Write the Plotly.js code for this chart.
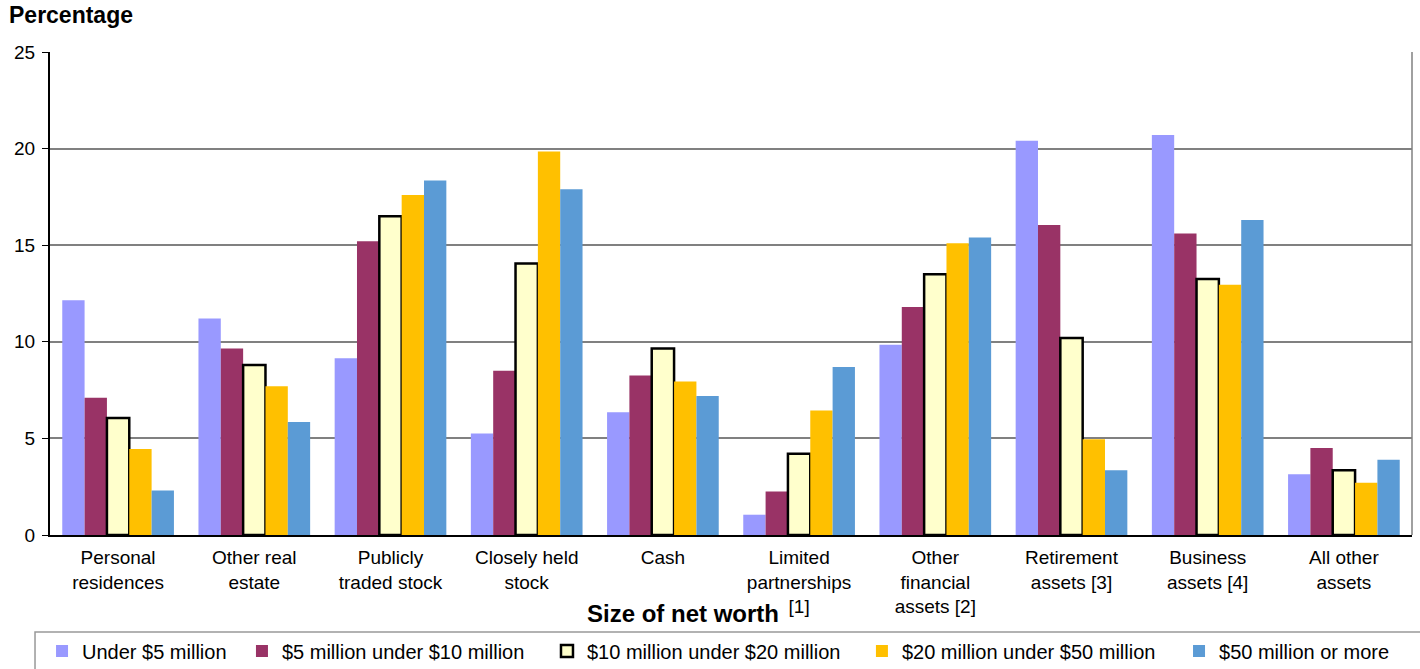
<!DOCTYPE html>
<html>
<head>
<meta charset="utf-8">
<script src="https://cdn.plot.ly/plotly-3.0.1.min.js"></script>
<style>html,body{margin:0;padding:0;background:#fff;}#chart{width:1420px;height:669px;}</style>
</head>
<body>
<div id="chart"></div>
<script>
const categories = [
  "Personal<br>residences",
  "Other real<br>estate",
  "Publicly<br>traded stock",
  "Closely held<br>stock",
  "Cash",
  "Limited<br>partnerships<br>[1]",
  "Other<br>financial<br>assets [2]",
  "Retirement<br>assets [3]",
  "Business<br>assets [4]",
  "All other<br>assets"
];
const seriesNames = [
  "Under $5 million",
  "$5 million under $10 million",
  "$10 million under $20 million",
  "$20 million under $50 million",
  "$50 million or more"
];
const under5   = [12.15, 11.2, 9.15, 5.25, 6.35, 1.05, 9.85, 20.4, 20.7, 3.15];
const m5to10   = [7.1, 9.65, 15.2, 8.5, 8.25, 2.25, 11.8, 16.05, 15.6, 4.5];
const m10to20  = [6.05, 8.8, 16.5, 14.05, 9.65, 4.2, 13.5, 10.2, 13.25, 3.35];
const m20to50  = [4.45, 7.7, 17.6, 19.85, 7.95, 6.45, 15.1, 4.95, 12.95, 2.7];
const m50plus  = [2.3, 5.85, 18.35, 17.9, 7.2, 8.7, 15.4, 3.35, 16.3, 3.9];

const colors = ["#9999FF", "#993366", "#FFFFCC", "#FFC000", "#5B9BD5"];
const values = [under5, m5to10, m10to20, m20to50, m50plus];
const legendIds = ["legend", "legend2", "legend3", "legend4", "legend5"];
const legendX = [0.0296, 0.1704, 0.3852, 0.6070, 0.8303];

const traces = values.map((v, i) => ({
  type: "bar",
  name: seriesNames[i],
  x: categories,
  y: v,
  legend: legendIds[i],
  marker: {
    color: colors[i],
    line: i === 2 ? {color: "#000000", width: 2.5} : {width: 0}
  },
  hoverinfo: "x+y+name"
}));

const font = "Liberation Sans, Arial, sans-serif";
const legendBase = (x) => ({
  orientation: "h",
  xref: "container", yref: "container",
  x: x, xanchor: "left",
  y: 0.027, yanchor: "middle",
  font: {family: font, size: 20, color: "#000"},
  bgcolor: "rgba(0,0,0,0)",
  borderwidth: 0,
  itemwidth: 30
});

const layout = {
  width: 1420,
  height: 669,
  margin: {l: 50, r: 8, t: 52, b: 134},
  paper_bgcolor: "#ffffff",
  plot_bgcolor: "#ffffff",
  font: {family: font, size: 19, color: "#000"},
  barmode: "group",
  bargap: 0.18,
  bargroupgap: 0,
  showlegend: true,
  legend: legendBase(legendX[0]),
  legend2: legendBase(legendX[1]),
  legend3: legendBase(legendX[2]),
  legend4: legendBase(legendX[3]),
  legend5: legendBase(legendX[4]),
  xaxis: {
    type: "category",
    showline: true,
    linecolor: "#000",
    linewidth: 2,
    ticks: "",
    ticklabelstandoff: 4,
    tickfont: {family: font, size: 19, color: "#000"},
    automargin: false,
    mirror: false
  },
  yaxis: {
    range: [0, 25],
    dtick: 5,
    tick0: 0,
    showline: true,
    linecolor: "#000",
    linewidth: 2,
    ticks: "outside",
    ticklen: 6,
    tickcolor: "#000",
    ticklabelstandoff: 3,
    showgrid: true,
    gridcolor: "#808080",
    gridwidth: 1.5,
    zeroline: false,
    tickfont: {family: font, size: 19, color: "#000"},
    automargin: false
  },
  shapes: [
    {type: "line", xref: "paper", yref: "paper", x0: 1, x1: 1, y0: 0, y1: 1,
     line: {color: "#808080", width: 1.5}},
    {type: "rect", xref: "paper", yref: "paper",
     x0: -0.011, x1: 1.02, y0: -0.2008, y1: -0.29,
     line: {color: "#999999", width: 1.5}, fillcolor: "rgba(0,0,0,0)"}
  ],
  annotations: [
    {text: "<b>Percentage</b>", xref: "paper", yref: "paper",
     x: -0.0315, y: 1.0766, xanchor: "left", yanchor: "middle", showarrow: false,
     font: {family: font, size: 23, color: "#000"}},
    {text: "<b>Size of net worth</b>", xref: "paper", yref: "paper",
     x: 0.4645, y: -0.163, xanchor: "center", yanchor: "middle", showarrow: false,
     font: {family: font, size: 24, color: "#000"}}
  ]
};

Plotly.newPlot("chart", traces, layout, {displayModeBar: false, responsive: false});
</script>
</body>
</html>
